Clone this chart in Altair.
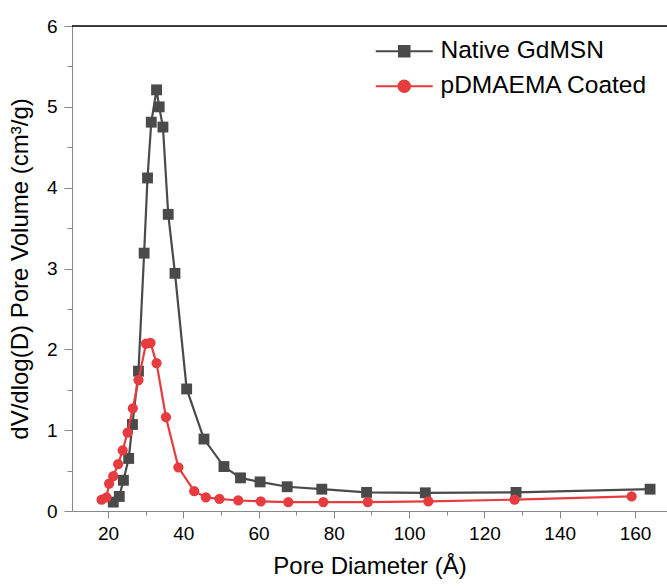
import altair as alt
import pandas as pd

native_x = [21.4, 23.0, 24.1, 25.5, 26.5, 28.1, 29.6, 30.5, 31.5, 32.9, 33.6, 34.6, 36.0,
            37.8, 40.9, 45.5, 50.8, 55.2, 60.4, 67.6, 76.8, 88.7, 104.3, 128.4, 164.0]
native_y = [0.11, 0.18, 0.38, 0.65, 1.07, 1.73, 3.19, 4.12, 4.81, 5.21, 5.00, 4.75, 3.67,
            2.94, 1.51, 0.89, 0.55, 0.41, 0.36, 0.30, 0.27, 0.23, 0.225, 0.23, 0.27]

coated_x = [18.3, 19.6, 20.3, 21.4, 22.7, 23.9, 25.2, 26.6, 28.1, 30.1, 31.3, 32.9, 35.4,
            38.7, 42.9, 46.0, 49.6, 54.6, 60.6, 67.9, 77.2, 89.0, 105.1, 128.0, 159.1]
coated_y = [0.14, 0.17, 0.34, 0.43, 0.58, 0.75, 0.97, 1.27, 1.62, 2.07, 2.08, 1.83, 1.16,
            0.54, 0.245, 0.17, 0.15, 0.13, 0.12, 0.11, 0.11, 0.11, 0.12, 0.14, 0.18]

series_names = ["Native GdMSN", "pDMAEMA Coated"]
series_colors = ["#4a4a4a", "#e63c3f"]
x_ticks = [20, 30, 40, 50, 60, 70, 80, 90, 100, 110, 120, 130, 140, 150, 160]
y_ticks = [0, 0.5, 1, 1.5, 2, 2.5, 3, 3.5, 4, 4.5, 5, 5.5, 6]

df_native = pd.DataFrame({"d": native_x, "v": native_y, "series": series_names[0]})
df_coated = pd.DataFrame({"d": coated_x, "v": coated_y, "series": series_names[1]})
df_all = pd.concat([df_native, df_coated], ignore_index=True)

FONT = "Liberation Sans"

xscale = alt.Scale(domain=[10.44, 168.5], nice=False, zero=False)
yscale = alt.Scale(domain=[0, 6], nice=False)

x_axis = alt.Axis(
    values=x_ticks,
    labelExpr="datum.value % 20 == 0 ? format(datum.value, 'd') : ''",
    tickSize={"condition": {"test": "datum.value % 20 == 0", "value": 7}, "value": 4},
    title="Pore Diameter (Å)",
    titleFontSize=24, titleFontWeight="normal", titlePadding=11,
    labelFontSize=19, labelPadding=6,
    grid=False,
)
y_axis = alt.Axis(
    values=y_ticks,
    labelExpr="datum.value % 1 == 0 ? format(datum.value, 'd') : ''",
    tickSize={"condition": {"test": "datum.value % 1 == 0", "value": 8}, "value": 5},
    title="dV/dlog(D) Pore Volume (cm³/g)",
    titleFontSize=24, titleFontWeight="normal", titlePadding=14,
    labelFontSize=19, labelPadding=7,
    grid=False,
)

sq_path = "M-5.7,0H5.7M-1.05,-1.05H1.05V1.05H-1.05Z"
ci_path = "M-5.7,0H5.7M1.15,0A1.15,1.15 0 1,1 -1.15,0A1.15,1.15 0 1,1 1.15,0Z"

leg = alt.Legend(
    title=None, orient="none", legendX=320, legendY=13,
    labelFont=FONT, labelFontSize=24.5, labelColor="black", labelLimit=0,
    symbolSize=100, symbolStrokeWidth=2, symbolOpacity=1,
    labelOffset=24, rowPadding=10, padding=0,
)

color_scale = alt.Scale(domain=series_names, range=series_colors)

X = alt.X("d:Q", scale=xscale, axis=x_axis)
Y = alt.Y("v:Q", scale=yscale, axis=y_axis)
C = alt.Color("series:N", scale=color_scale, legend=leg)

line_native = alt.Chart(df_native).mark_line(strokeWidth=2.2).encode(x=X, y=Y, color=C)
pts_native = alt.Chart(df_native).mark_square(size=118, opacity=1).encode(x=X, y=Y, color=C)
line_coated = alt.Chart(df_coated).mark_line(strokeWidth=2.2).encode(x=X, y=Y, color=C)
pts_coated = alt.Chart(df_coated).mark_circle(size=105, opacity=1).encode(x=X, y=Y, color=C)

# legend-only layer: its points sit below the visible y range and are clipped away
legend_layer = alt.Chart(df_all).mark_point(filled=True, opacity=1, strokeWidth=2, clip=True).encode(
    x=X, y=alt.Y("vhide:Q", scale=yscale, axis=y_axis),
    color=C,
    shape=alt.Shape("series:N", scale=alt.Scale(domain=series_names, range=[sq_path, ci_path]), legend=leg),
).transform_calculate(vhide="-100")

frame_top = alt.Chart(pd.DataFrame({"k": [0]})).mark_rule(color="black", strokeWidth=1.5).encode(
    x=alt.value(0), x2=alt.value(595), y=alt.value(0)
)

chart = alt.layer(
    line_native, pts_native, line_coated, pts_coated, legend_layer, frame_top
).properties(
    width=595, height=485,
    autosize=alt.AutoSizeParams(type="none"),
    padding={"left": 72, "top": 26, "right": 0, "bottom": 77},
).configure_view(stroke=None).configure_axis(
    domainColor="black", domainWidth=1.5, tickColor="black", tickWidth=1.5,
    labelColor="black", titleColor="black", labelFont=FONT, titleFont=FONT,
).configure(background="white")

chart.save("out.html", embed_options={"renderer": "svg", "actions": False})
